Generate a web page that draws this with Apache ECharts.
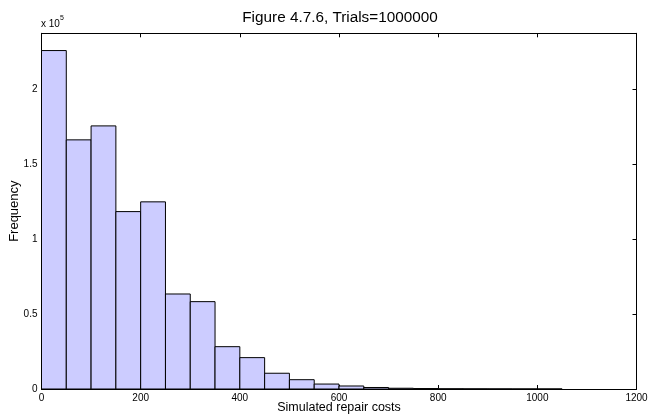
<!DOCTYPE html>
<html>
<head>
<meta charset="utf-8">
<script src="https://cdn.jsdelivr.net/npm/echarts@6/dist/echarts.min.js"></script>
<style>
  html, body { margin: 0; padding: 0; background: #fff; }
  #chart { width: 665px; height: 415px; }
</style>
</head>
<body>
<div id="chart"></div>
<script>
// Histogram of simulated repair costs: bins of width 50 starting at 0
const binWidth = 50;
const binStarts = [0, 50, 100, 150, 200, 250, 300, 350, 400, 450, 500, 550,
                   600, 650, 700, 750, 800, 850, 900, 950, 1000];
const counts = [225500, 166000, 175300, 118200, 124700, 63300, 58200, 28200,
                20900, 10500, 6200, 3300, 2000, 1000, 500, 300, 150, 100, 60, 30, 15];
const xTicks = [0, 200, 400, 600, 800, 1000, 1200];
const yTicks = [0, 50000, 100000, 150000, 200000];

const FONT = '"Liberation Sans", Arial, sans-serif';

const chart = echarts.init(document.getElementById('chart'), null, { renderer: 'canvas' });

const histData = binStarts.map((s, i) => [s, s + binWidth, counts[i]]);

const axisLineStyle = { show: true, onZero: false, lineStyle: { color: '#000', width: 1 } };
const tickStyle = { show: true, inside: true, length: 4, lineStyle: { color: '#000', width: 1 } };

chart.setOption({
  animation: false,
  title: {
    text: 'Figure 4.7.6, Trials=1000000',
    left: 335, top: 5, textAlign: 'center',
    textStyle: { fontFamily: FONT, fontSize: 15.3, fontWeight: 'normal', color: '#000' }
  },
  grid: {
    left: 41.5, right: 28.5, top: 33.3, bottom: 26,
    containLabel: false, outerBoundsMode: 'none'
  },
  xAxis: [
    {
      type: 'value', min: 0, max: 1200, interval: 200, position: 'bottom',
      axisLine: axisLineStyle, axisTick: tickStyle, splitLine: { show: false },
      axisLabel: {
        color: '#000', fontFamily: FONT, fontSize: 10, margin: 4,
        formatter: v => (xTicks.indexOf(v) >= 0 ? String(v) : '')
      },
      name: 'Simulated repair costs', nameLocation: 'middle', nameGap: 12,
      nameMoveOverlap: false,
      nameTextStyle: { color: '#000', fontFamily: FONT, fontSize: 12.5 }
    },
    {
      type: 'value', min: 0, max: 1200, interval: 200, position: 'top',
      axisLine: axisLineStyle, axisTick: tickStyle, splitLine: { show: false },
      axisLabel: { show: false }
    }
  ],
  yAxis: [
    {
      type: 'value', min: 0, max: 237000, interval: 50000, position: 'left',
      axisLine: axisLineStyle, axisTick: tickStyle, splitLine: { show: false },
      axisLabel: {
        color: '#000', fontFamily: FONT, fontSize: 10, margin: 4, showMaxLabel: false,
        formatter: v => (yTicks.indexOf(v) >= 0 ? String(v / 1e5) : '')
      },
      name: 'Frequency', nameLocation: 'middle', nameGap: 21, nameRotate: 90,
      nameMoveOverlap: false,
      nameTextStyle: { color: '#000', fontFamily: FONT, fontSize: 13 }
    },
    {
      type: 'value', min: 0, max: 237000, interval: 50000, position: 'right',
      axisLine: axisLineStyle, axisTick: tickStyle, splitLine: { show: false },
      axisLabel: { show: false }
    }
  ],
  graphic: [
    {
      type: 'text', left: 41, top: 15,
      style: {
        text: '{b|x 10}{s|5}',
        rich: {
          b: { fontFamily: FONT, fontSize: 10, fill: '#000', verticalAlign: 'bottom' },
          s: { fontFamily: FONT, fontSize: 7, fill: '#000', verticalAlign: 'top', padding: [0, 0, 7, 0] }
        }
      }
    }
  ],
  series: [
    {
      type: 'custom',
      xAxisIndex: 0, yAxisIndex: 0,
      data: histData,
      encode: { x: [0, 1], y: 2 },
      renderItem: function (params, api) {
        const p0 = api.coord([api.value(0), api.value(2)]);
        const p1 = api.coord([api.value(1), 0]);
        return {
          type: 'rect',
          shape: { x: p0[0], y: p0[1], width: p1[0] - p0[0], height: p1[1] - p0[1] },
          style: { fill: '#ccccff', stroke: '#000', lineWidth: 1 }
        };
      }
    }
  ]
});
</script>
</body>
</html>
